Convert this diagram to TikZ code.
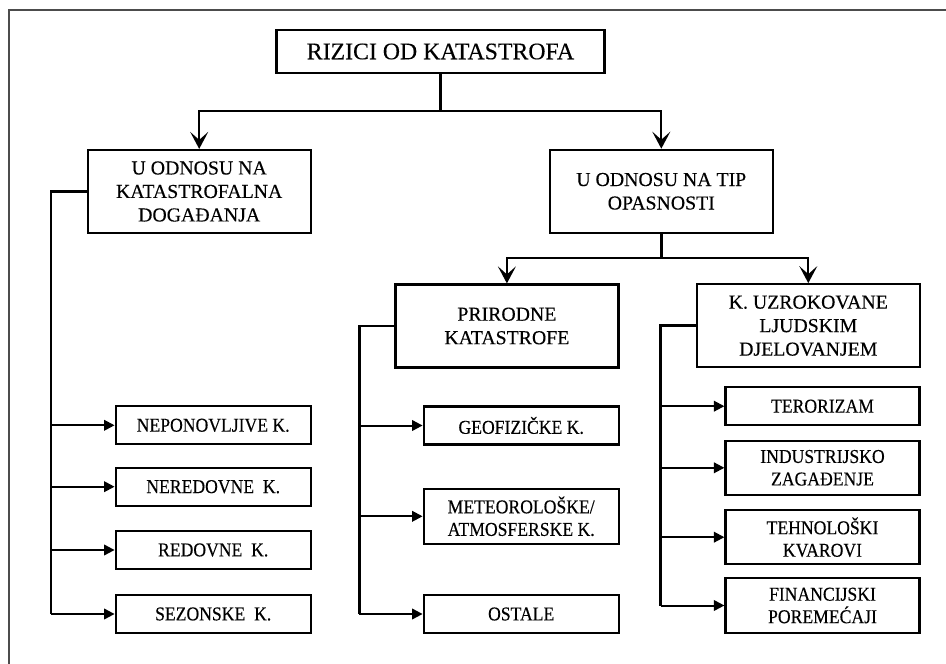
\documentclass[tikz,border=0pt]{standalone}
\usepackage{fontspec}
\setmainfont[FakeBold=0.25]{Liberation Serif}
\newfontfamily\leaffont[FakeStretch=0.9, FakeBold=0.25]{Liberation Serif}
\usetikzlibrary{arrows.meta}

\tikzset{
  box/.style={draw, line width=2.2pt, rectangle, align=center, inner sep=0pt},
  topbox/.style={box, font=\fontsize{23.8}{28}\selectfont},
  midbox/.style={box, font=\fontsize{19.8}{23.5}\selectfont,
    minimum width=223pt, minimum height=83pt},
  leafbox/.style={box, font=\leaffont\fontsize{19.6}{22.5}\selectfont, minimum width=195pt},
  stem/.style={line width=2.2pt},
  bigarrow/.style={-{Stealth[length=17pt,width=18pt,inset=8pt]}, line width=1.8pt},
  smallarrow/.style={-{Triangle[length=10.5pt,width=10.5pt]}, line width=2pt},
  trunk/.style={line width=2.8pt},
  frame/.style={draw=black!70, line width=1.3pt}
}

\begin{document}
\begin{tikzpicture}[x=1pt, y=-1pt]
  \useasboundingbox (0,0) rectangle (946,664);
  \fill[white] (0,0) rectangle (946,664);

  % open page frame (top and left edges)
  \draw[frame] (9,664) -- (9,10) -- (946,10);

  % root
  \node[topbox, minimum width=328pt, minimum height=43pt] (top) at (440.5,51.5)
    {RIZICI OD KATASTROFA};

  % second level
  \node[midbox] (evt) at (199.2,191.5) {U ODNOSU NA\\KATASTROFALNA\\DOGAĐANJA};
  \node[midbox] (tip) at (661.3,191.3) {U ODNOSU NA TIP\\OPASNOSTI};

  % third level
  \node[midbox] (prir) at (506.9,326) {PRIRODNE\\KATASTROFE};
  \node[midbox] (ljud) at (808.3,325.7) {K. UZROKOVANE\\LJUDSKIM\\DJELOVANJEM};

  % leaves under "katastrofalna događanja"
  \node[leafbox, minimum height=38pt] (nep) at (213.2,425.3) {NEPONOVLJIVE K.};
  \node[leafbox, minimum height=38pt] (ner) at (213.2,486.7) {NEREDOVNE\ \ K.};
  \node[leafbox, minimum height=38pt] (red) at (213.2,550) {REDOVNE\ \ K.};
  \node[leafbox, minimum height=38pt] (sez) at (213.2,614) {SEZONSKE\ \ K.};

  % leaves under natural disasters
  \node[leafbox, minimum height=38pt] (geo) at (521.2,425.5) {GEOFIZIČKE K.};
  \node[leafbox, minimum height=55pt] (met) at (521.2,516.3) {METEOROLOŠKE/\\ATMOSFERSKE K.};
  \node[leafbox, minimum height=38pt] (ost) at (521.2,614) {OSTALE};

  % leaves under human-caused disasters
  \node[leafbox, minimum width=194pt, minimum height=38pt] (ter) at (822.5,406.2) {TERORIZAM};
  \node[leafbox, minimum width=194pt, minimum height=54pt] (ind) at (822.5,467.8) {INDUSTRIJSKO\\ZAGAĐENJE};
  \node[leafbox, minimum width=194pt, minimum height=54pt] (teh) at (822.5,537.2) {TEHNOLOŠKI\\KVAROVI};
  \node[leafbox, minimum width=194pt, minimum height=55pt] (fin) at (822.5,605.5) {FINANCIJSKI\\POREMEĆAJI};

  % root split
  \coordinate (j1) at (top.south |- 0,111);
  \draw[stem] (top.south) -- (j1);
  \draw[bigarrow] (j1) -| (evt.north);
  \draw[bigarrow] (j1) -| (tip.north);

  % hazard-type split
  \coordinate (j2) at (tip.south |- 0,257.7);
  \draw[trunk] (tip.south) -- (j2);
  \draw[bigarrow] (j2) -| (prir.north);
  \draw[bigarrow] (j2) -| (ljud.north);

  % left trunk
  \coordinate (lb) at (51,0);
  \draw[trunk] (evt.west) -| (lb |- sez.west);
  \draw[smallarrow] (lb |- nep.west) -- (nep.west);
  \draw[smallarrow] (lb |- ner.west) -- (ner.west);
  \draw[smallarrow] (lb |- red.west) -- (red.west);
  \draw[smallarrow] (lb |- sez.west) -- (sez.west);

  % middle trunk
  \coordinate (mb) at (359.3,0);
  \draw[trunk] (prir.west) -| (mb |- ost.west);
  \draw[smallarrow] (mb |- geo.west) -- (geo.west);
  \draw[smallarrow] (mb |- met.west) -- (met.west);
  \draw[smallarrow] (mb |- ost.west) -- (ost.west);

  % right trunk
  \coordinate (rb) at (660.7,0);
  \draw[trunk] (ljud.west) -| (rb |- fin.west);
  \draw[smallarrow] (rb |- ter.west) -- (ter.west);
  \draw[smallarrow] (rb |- ind.west) -- (ind.west);
  \draw[smallarrow] (rb |- teh.west) -- (teh.west);
  \draw[smallarrow] (rb |- fin.west) -- (fin.west);
\end{tikzpicture}
\end{document}
